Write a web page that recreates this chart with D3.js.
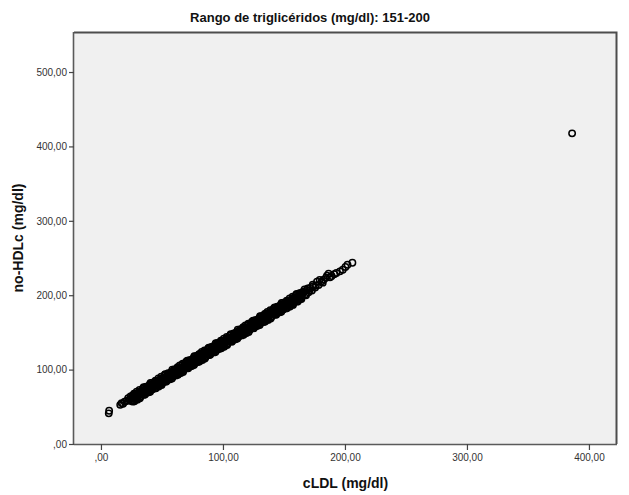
<!DOCTYPE html>
<html>
<head>
<meta charset="utf-8">
<script src="https://cdn.jsdelivr.net/npm/d3@7"></script>
<style>
  html, body { margin: 0; padding: 0; background: #ffffff; }
  svg { display: block; font-family: "Liberation Sans", Arial, sans-serif; }
</style>
</head>
<body>
<svg id="chart" width="629" height="495"></svg>
<script>
// cLDL (mg/dl) for each subject in the 151-200 mg/dl triglyceride range
const cldl = [
  6.4, 6.7, 15.8, 16.9, 18.1, 19.4, 21.0, 22.3, 23.6, 24.2,
  25.1, 26.0, 26.7, 27.9, 28.6, 29.4, 30.5, 31.2, 32.0, 33.1,
  33.8, 34.6, 35.7, 36.3, 37.2, 38.4, 39.0, 39.9, 41.1, 41.8,
  42.5, 43.7, 44.3, 45.2, 46.4, 47.0, 47.9, 49.0, 49.8, 50.6,
  51.7, 52.3, 53.2, 54.4, 55.1, 55.9, 57.0, 57.8, 58.5, 59.7,
  60.3, 61.2, 62.4, 63.0, 63.9, 65.1, 65.8, 66.6, 67.7, 68.4,
  69.2, 70.3, 71.1, 71.9, 73.0, 73.7, 74.6, 75.8, 76.4, 77.3,
  78.5, 79.1, 80.0, 81.2, 81.9, 82.7, 83.8, 84.5, 85.3, 86.4,
  87.2, 88.0, 89.1, 89.8, 90.7, 91.9, 92.5, 93.4, 94.6, 95.2,
  96.1, 97.3, 97.9, 98.8, 100.0, 100.6, 101.5, 102.7, 103.3, 104.2,
  105.4, 106.0, 106.9, 108.1, 108.7, 109.6, 110.8, 111.4, 112.3, 113.5,
  114.1, 115.0, 116.2, 116.8, 117.7, 118.9, 119.5, 120.4, 121.6, 122.2,
  123.1, 124.3, 124.9, 125.8, 127.0, 127.6, 128.5, 129.7, 130.3, 131.2,
  132.4, 133.0, 133.9, 135.1, 135.7, 136.6, 137.8, 138.4, 139.3, 140.5,
  141.1, 142.0, 143.2, 143.8, 144.7, 145.9, 146.5, 147.4, 148.6, 149.2,
  150.1, 151.3, 151.9, 152.8, 154.0, 154.6, 155.5, 156.7, 157.3, 158.2,
  159.4, 160.0, 160.9, 162.1, 162.7, 163.6, 164.8,
  25.5, 26.4, 27.1, 28.3, 29.0, 29.8, 30.9, 31.6, 32.4, 33.5,
  34.2, 35.0, 36.1, 36.7, 37.6, 38.8, 39.4, 40.3, 41.5, 42.2,
  42.9, 44.1, 44.7, 45.6, 46.8, 47.4, 48.3, 49.4, 50.2, 51.0,
  52.1, 52.7, 53.6, 54.8, 55.5, 56.3, 57.4, 58.2, 58.9, 60.1,
  60.7, 61.6, 62.8, 63.4, 64.3, 65.5, 66.2, 67.0, 68.1, 68.8,
  69.6, 70.7, 71.5, 72.3, 73.4, 74.1, 75.0, 76.2, 76.8, 77.7,
  78.9, 79.5, 80.4, 81.6, 82.3, 83.1, 84.2, 84.9, 85.7, 86.8,
  87.6, 88.4, 89.5, 90.2, 91.1, 92.3, 92.9, 93.8, 95.0, 95.6,
  96.5, 97.7, 98.3, 99.2, 100.4, 101.0, 101.9, 103.1, 103.7, 104.6,
  105.8, 106.4, 107.3, 108.5, 109.1, 110.0, 111.2, 111.8, 112.7, 113.9,
  114.5, 115.4, 116.6, 117.2, 118.1, 119.3, 119.9, 120.8, 122.0, 122.6,
  123.5, 124.7, 125.3, 126.2, 127.4, 128.0, 128.9, 130.1, 130.7, 131.6,
  132.8, 133.4, 134.3, 135.5, 136.1, 137.0, 138.2, 138.8, 139.7, 140.9,
  141.5, 142.4, 143.6, 144.2, 145.1, 146.3, 146.9, 147.8, 149.0, 149.6,
  150.5, 151.7, 152.3, 153.2, 154.4, 155.0, 155.9, 157.1, 157.7, 158.6,
  159.8, 160.4, 161.3, 162.5, 163.1, 164.0, 165.2,
  25.8, 26.7, 27.4, 28.6, 29.3, 30.1, 31.2, 31.9, 32.7, 33.8,
  34.5, 35.3, 36.4, 37.0, 37.9, 39.1, 39.7, 40.6, 41.8, 42.5,
  43.2, 44.4, 45.0, 45.9, 47.1, 47.7, 48.6, 49.7, 50.5, 51.3,
  52.4, 53.0, 53.9, 55.1, 55.8, 56.6, 57.7, 58.5, 59.2, 60.4,
  61.0, 61.9, 63.1, 63.7, 64.6, 65.8, 66.5, 67.3, 68.4, 69.1,
  69.9, 71.0, 71.8, 72.6, 73.7, 74.4, 75.3, 76.5, 77.1, 78.0,
  79.2, 79.8, 80.7, 81.9, 82.6, 83.4, 84.5, 85.2, 86.0, 87.1,
  87.9, 88.7, 89.8, 90.5, 91.4, 92.6, 93.2, 94.1, 95.3, 95.9,
  96.8, 98.0, 98.6, 99.5, 100.7, 101.3, 102.2, 103.4, 104.0, 104.9,
  106.1, 106.7, 107.6, 108.8, 109.4, 110.3, 111.5, 112.1, 113.0, 114.2,
  114.8, 115.7, 116.9, 117.5, 118.4, 119.6, 120.2, 121.1, 122.3, 122.9,
  123.8, 125.0, 125.6, 126.5, 127.7, 128.3, 129.2, 130.4, 131.0, 131.9,
  133.1, 133.7, 134.6, 135.8, 136.4, 137.3, 138.5, 139.1, 140.0, 141.2,
  141.8, 142.7, 143.9, 144.5, 145.4, 146.6, 147.2, 148.1, 149.3, 149.9,
  150.8, 152.0, 152.6, 153.5, 154.7, 155.3, 156.2, 157.4, 158.0, 158.9,
  160.1, 160.7, 161.6, 162.8, 163.4, 164.3, 165.5,
  166.3, 167.5, 168.8, 170.2, 171.4, 172.9, 174.0, 175.6, 177.1, 178.4,
  180.9, 182.6, 184.5, 186.6, 189.1, 193.0, 195.9, 198.2, 200.4, 202.1,
  206.1, 166.9, 168.1, 169.5, 171.0, 173.6, 176.2, 179.3, 181.8, 185.3,
  187.8, 191.2, 386.2
];

// no-HDLc (mg/dl) for the same subjects, in the same order
const noHdl = [
  41.2, 44.6, 52.6, 55.0, 54.2, 56.9, 57.8, 61.5, 59.4, 63.8,
  57.5, 64.9, 62.3, 67.6, 59.9, 66.2, 64.4, 69.4, 62.9, 70.6,
  68.5, 73.9, 68.5, 72.4, 69.0, 77.0, 74.0, 79.7, 74.3, 78.8,
  74.1, 82.1, 79.2, 84.7, 78.6, 84.3, 81.4, 87.8, 80.9, 87.0,
  87.0, 92.2, 85.8, 92.2, 86.6, 94.0, 91.3, 97.0, 91.5, 96.3,
  92.3, 100.3, 98.2, 101.5, 94.7, 102.8, 99.9, 106.2, 99.6, 104.6,
  102.8, 108.6, 103.6, 110.9, 104.2, 110.8, 110.0, 115.2, 109.3, 114.2,
  110.9, 118.0, 115.6, 120.9, 113.2, 119.5, 117.7, 122.7, 116.2, 123.9,
  121.9, 127.3, 121.9, 125.9, 122.5, 130.5, 127.5, 133.2, 127.8, 132.2,
  127.7, 135.7, 132.8, 138.3, 132.2, 137.9, 135.0, 141.5, 134.4, 140.6,
  140.7, 145.9, 139.5, 145.9, 140.2, 147.7, 145.1, 150.6, 145.3, 150.1,
  146.1, 154.1, 152.0, 155.3, 148.5, 156.6, 153.6, 160.0, 153.5, 158.4,
  156.7, 162.6, 157.4, 164.8, 158.2, 164.7, 163.9, 169.1, 163.2, 168.1,
  164.8, 171.9, 169.5, 174.8, 167.0, 173.4, 171.7, 176.6, 170.2, 178.0,
  175.8, 181.3, 176.0, 179.9, 176.5, 184.5, 181.5, 187.2, 181.8, 186.2,
  181.7, 189.7, 186.8, 192.3, 186.2, 191.9, 189.0, 195.5, 188.4, 194.6,
  194.7, 199.9, 193.5, 199.9, 194.2, 201.7, 199.1,
  61.8, 57.0, 67.5, 62.0, 67.0, 59.6, 66.1, 72.5, 64.1, 70.9,
  68.6, 76.2, 66.4, 73.6, 76.7, 71.1, 78.1, 70.2, 77.4, 82.4,
  79.2, 74.7, 85.1, 79.3, 84.8, 77.2, 83.5, 90.3, 81.9, 88.4,
  86.5, 93.9, 83.9, 91.7, 94.6, 88.6, 96.1, 88.1, 94.8, 100.3,
  97.0, 92.2, 103.2, 97.1, 102.3, 95.3, 101.4, 107.9, 99.8, 106.2,
  104.0, 111.9, 101.8, 109.2, 112.5, 106.4, 113.7, 106.1, 112.7, 117.9,
  115.2, 110.1, 120.8, 115.3, 120.3, 112.9, 119.4, 125.8, 117.4, 124.2,
  122.0, 129.6, 119.8, 127.1, 130.2, 124.6, 131.6, 123.7, 130.9, 135.8,
  132.8, 128.3, 138.7, 132.9, 138.4, 130.8, 137.1, 144.0, 135.4, 142.0,
  140.2, 147.6, 137.6, 145.4, 148.2, 142.3, 149.9, 141.7, 148.6, 154.1,
  150.8, 146.0, 157.0, 150.9, 156.1, 149.1, 155.1, 161.7, 153.7, 160.0,
  157.9, 165.9, 155.6, 163.1, 166.5, 160.3, 167.6, 160.0, 166.6, 171.8,
  169.1, 164.0, 174.7, 169.2, 174.1, 166.8, 173.4, 179.7, 171.4, 178.3,
  175.9, 183.6, 173.9, 181.1, 184.2, 178.6, 185.6, 177.7, 184.9, 189.8,
  186.8, 182.3, 192.7, 186.9, 192.4, 184.8, 191.1, 198.0, 189.4, 196.0,
  194.2, 201.6, 191.6, 199.4, 202.2, 196.3, 203.9,
  64.8, 60.7, 57.5, 65.8, 70.3, 62.8, 67.2, 61.5, 71.1, 67.1,
  75.1, 66.3, 71.9, 76.9, 71.8, 69.6, 77.3, 82.0, 73.3, 77.3,
  82.2, 78.4, 75.1, 83.1, 88.1, 80.4, 84.6, 79.3, 88.9, 84.6,
  93.0, 84.0, 89.4, 95.0, 89.7, 87.1, 95.3, 99.9, 90.7, 95.2,
  100.0, 95.9, 93.2, 100.9, 105.6, 98.5, 102.5, 96.9, 106.8, 102.4,
  110.5, 102.0, 107.3, 112.5, 107.6, 104.9, 112.9, 117.9, 108.6, 112.8,
  118.2, 113.8, 110.8, 119.1, 123.6, 116.1, 120.5, 114.8, 124.4, 120.4,
  128.5, 119.7, 125.3, 130.4, 125.3, 123.1, 130.8, 135.5, 126.8, 130.7,
  135.8, 132.0, 128.7, 136.7, 141.7, 134.0, 138.2, 133.0, 142.4, 138.2,
  146.7, 137.7, 143.1, 148.7, 143.3, 140.8, 149.1, 153.5, 144.5, 149.0,
  153.8, 149.7, 147.0, 154.7, 159.4, 152.3, 156.2, 150.7, 160.7, 156.2,
  164.4, 156.0, 161.1, 166.4, 161.6, 158.8, 166.8, 171.8, 162.5, 166.7,
  172.1, 167.7, 164.7, 173.0, 177.4, 170.0, 174.5, 168.7, 178.4, 174.5,
  182.4, 173.7, 179.4, 184.4, 179.3, 177.1, 184.8, 189.5, 180.8, 184.7,
  189.8, 186.0, 182.7, 190.7, 195.7, 188.0, 192.2, 187.0, 196.4, 192.2,
  200.7, 191.7, 197.1, 202.7, 197.3, 194.8, 203.1,
  204.8, 201.3, 207.1, 203.9, 209.6, 206.2, 212.0, 210.3, 218.3, 213.6,
  218.6, 221.0, 223.4, 228.8, 225.9, 229.8, 232.1, 234.3, 238.0, 240.9,
  243.7, 207.9, 199.8, 209.2, 206.5, 214.1, 213.0, 220.4, 216.9, 226.2,
  224.1, 228.3, 417.6
];

// Axis ticks and their labels (comma decimal, no leading zero)
const xTicks = [0, 100, 200, 300, 400];
const xTickLabels = [",00", "100,00", "200,00", "300,00", "400,00"];
const yTicks = [0, 100, 200, 300, 400, 500];
const yTickLabels = [",00", "100,00", "200,00", "300,00", "400,00", "500,00"];

const titleText = "Rango de triglicéridos (mg/dl): 151-200";
const xTitle = "cLDL (mg/dl)";
const yTitle = "no-HDLc (mg/dl)";

const svg = d3.select("#chart");
const plot = { left: 74, right: 617, top: 32, bottom: 444 };

const x = d3.scaleLinear().domain([-22.1, 423]).range([plot.left, plot.right]);
const y = d3.scaleLinear().domain([0, 553.8]).range([plot.bottom, plot.top]);

// plot background
svg.append("rect")
  .attr("x", plot.left).attr("y", plot.top)
  .attr("width", plot.right - plot.left).attr("height", plot.bottom - plot.top)
  .attr("fill", "#f0f0f0");

// top and right frame edges
svg.append("path")
  .attr("d", `M${plot.left},${plot.top + 0.5}H${plot.right - 0.5}V${plot.bottom}`)
  .attr("fill", "none").attr("stroke", "#4d4d4d").attr("stroke-width", 2);

// scatter points (open circles)
const pts = d3.range(cldl.length).map(i => ({ cx: cldl[i], cy: noHdl[i] }));
svg.append("g")
  .selectAll("circle").data(pts).join("circle")
  .attr("cx", d => x(d.cx)).attr("cy", d => y(d.cy))
  .attr("r", 3.2)
  .attr("fill", "none")
  .attr("stroke", "#000")
  .attr("stroke-width", 1.5);

// axes
const xAxis = d3.axisBottom(x).tickValues(xTicks)
  .tickFormat((d, i) => xTickLabels[i]).tickSize(6).tickPadding(4).tickSizeOuter(0);
const yAxis = d3.axisLeft(y).tickValues(yTicks)
  .tickFormat((d, i) => yTickLabels[i]).tickSize(5).tickPadding(2).tickSizeOuter(0);

const gx = svg.append("g").attr("transform", `translate(0,${plot.bottom})`).call(xAxis);
const gy = svg.append("g").attr("transform", `translate(${plot.left},0)`).call(yAxis);

// extend the axis lines along the full plot edges
gx.select(".domain").attr("d", `M${plot.left},0.5H${plot.right}`);
gy.select(".domain").attr("d", `M-0.5,${plot.top}V${plot.bottom}`);

[gx, gy].forEach(g => {
  g.select(".domain").attr("stroke", "#5a5a5a").attr("stroke-width", 1.6);
  g.selectAll(".tick line").attr("stroke", "#444").attr("stroke-width", 1.2);
  g.selectAll(".tick text")
    .attr("fill", "#333")
    .style("font-family", "'Liberation Sans', Arial, sans-serif")
    .style("font-size", "10px");
});

// chart title
svg.append("text")
  .attr("x", 310).attr("y", 22)
  .attr("text-anchor", "middle")
  .style("font-size", "13px").style("font-weight", "bold")
  .attr("fill", "#111")
  .text(titleText);

// axis titles
svg.append("text")
  .attr("x", (plot.left + plot.right) / 2).attr("y", 488)
  .attr("text-anchor", "middle")
  .style("font-size", "14px").style("font-weight", "bold")
  .attr("fill", "#111")
  .text(xTitle);

svg.append("text")
  .attr("transform", `translate(23,${(plot.top + plot.bottom) / 2}) rotate(-90)`)
  .attr("text-anchor", "middle")
  .style("font-size", "14px").style("font-weight", "bold")
  .attr("fill", "#111")
  .text(yTitle);
</script>
</body>
</html>
